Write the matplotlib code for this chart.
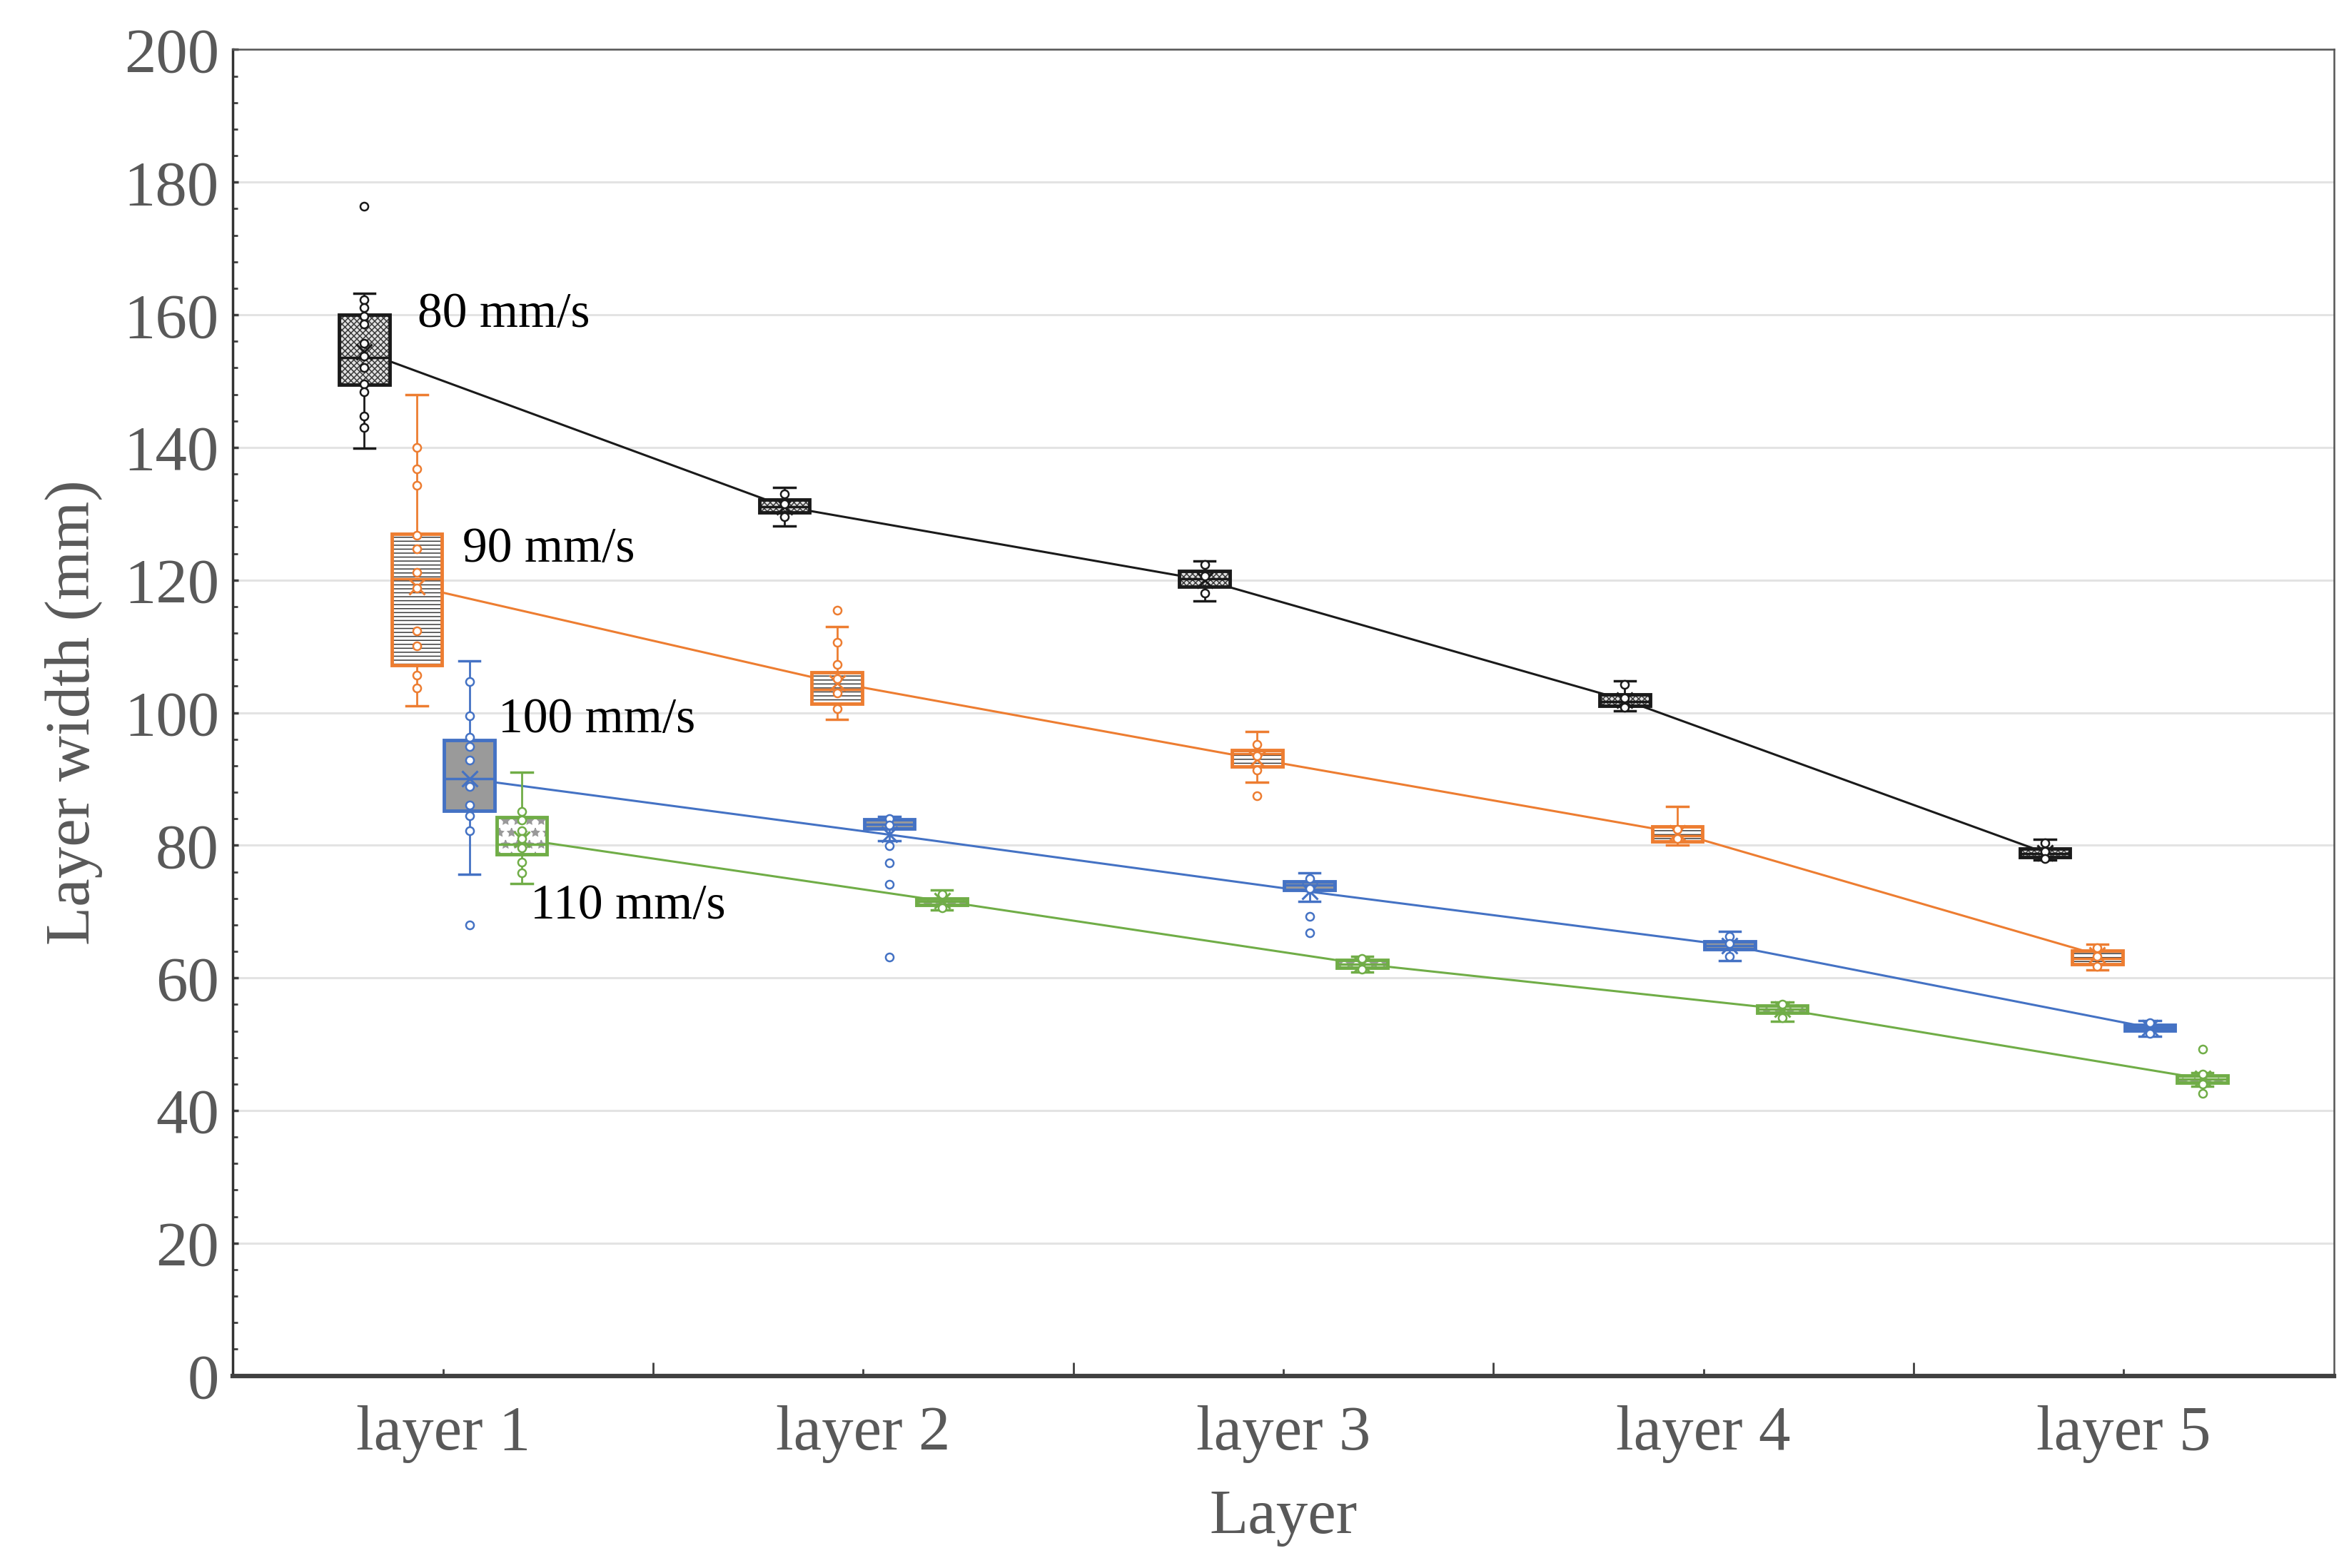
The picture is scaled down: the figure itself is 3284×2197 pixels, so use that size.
import numpy as np
import matplotlib
matplotlib.use('Agg')
import matplotlib.pyplot as plt
from matplotlib.patches import PathPatch
from matplotlib.ticker import MultipleLocator, AutoMinorLocator

plt.rcParams['font.family'] = ['Liberation Serif', 'DejaVu Serif']
plt.rcParams['hatch.linewidth'] = 1.1

layers = ['layer 1', 'layer 2', 'layer 3', 'layer 4', 'layer 5']
speeds = ['80 mm/s', '90 mm/s', '100 mm/s', '110 mm/s']

# box statistics, one value per layer
lo_80 = [139.9, 128.1, 116.8, 100.3, 77.8]
q1_80 = [149.5, 130.2, 119.0, 101.0, 78.2]
med_80 = [153.6, 131.1, 120.2, 101.7, 78.8]
q3_80 = [160.0, 132.1, 121.4, 102.8, 79.5]
hi_80 = [163.2, 134.0, 122.9, 104.8, 80.9]
mean_80 = [154.4, 131.1, 120.0, 101.9, 78.9]
out_80 = [[176.4], [], [], [], []]
pts_80 = [[162.3, 161.1, 159.8, 158.6, 155.7, 153.8, 152.0, 149.6, 148.4, 144.7, 143.0],
          [133.0, 131.5, 129.6], [122.3, 120.6, 118.0], [104.3, 102.2, 100.8], [80.4, 79.1, 78.0]]

lo_90 = [101.0, 99.0, 89.5, 80.0, 61.2]
q1_90 = [107.2, 101.4, 91.9, 80.6, 62.1]
med_90 = [120.2, 103.5, 93.8, 81.4, 62.9]
q3_90 = [127.0, 106.1, 94.4, 82.8, 64.1]
hi_90 = [147.9, 113.0, 97.2, 85.9, 65.1]
mean_90 = [119.0, 104.5, 93.0, 81.9, 63.5]
out_90 = [[], [115.5], [87.5], [], []]
pts_90 = [[140.0, 136.8, 134.3, 126.8, 124.7, 121.2, 118.8, 112.3, 110.1, 105.7, 103.7],
          [110.6, 107.3, 105.1, 103.0, 100.6], [95.2, 93.5, 91.3], [82.4, 81.0], [64.5, 63.2, 61.7]]

lo_100 = [75.6, 80.7, 71.5, 62.6, 51.2]
q1_100 = [85.2, 82.5, 73.3, 64.3, 52.1]
med_100 = [90.05, 83.2, 74.0, 64.9, 52.5]
q3_100 = [95.9, 83.9, 74.6, 65.5, 52.9]
hi_100 = [107.8, 84.3, 75.8, 67.0, 53.6]
mean_100 = [90.0, 81.6, 73.0, 64.9, 52.5]
out_100 = [[68.0], [79.9, 77.4, 74.1, 63.1], [69.3, 66.8], [], []]
pts_100 = [[104.7, 99.5, 96.3, 94.9, 92.9, 88.9, 86.1, 84.5, 82.2],
           [84.0, 83.0], [75.0, 73.5], [66.3, 65.2, 63.3], [53.2, 51.6]]

lo_110 = [74.2, 70.2, 60.9, 53.5, 43.7]
q1_110 = [78.6, 71.0, 61.5, 54.7, 44.2]
med_110 = [80.2, 71.5, 62.1, 55.3, 44.7]
q3_110 = [84.2, 72.0, 62.7, 55.8, 45.3]
hi_110 = [91.0, 73.3, 63.3, 56.4, 45.7]
mean_110 = [80.9, 71.6, 62.1, 55.3, 44.8]
out_110 = [[], [], [], [], [49.3, 42.6]]
pts_110 = [[85.1, 83.8, 82.2, 81.0, 79.6, 77.5, 75.8],
           [72.6, 70.6], [62.9, 61.3], [56.0, 54.0], [45.5, 44.0]]

series = [
    (lo_80, q1_80, med_80, q3_80, hi_80, mean_80, out_80, pts_80),
    (lo_90, q1_90, med_90, q3_90, hi_90, mean_90, out_90, pts_90),
    (lo_100, q1_100, med_100, q3_100, hi_100, mean_100, out_100, pts_100),
    (lo_110, q1_110, med_110, q3_110, hi_110, mean_110, out_110, pts_110),
]

colors = ['#1a1a1a', '#ED7D31', '#4472C4', '#70AD47']
faces = ['#e2e2e2', 'white', '#9a9a9a', 'white']
hatches = ['xxxx', '---', None, '*']
hatch_cols = ['#3a3a3a', '#3a3a3a', '#9a9a9a', '#999999']
offsets = [-0.1875, -0.0625, 0.0625, 0.1875]

fig = plt.figure(figsize=(32.84, 21.97), dpi=100)
ax = fig.add_axes([0.0994, 0.1226, 0.8962, 0.8458])

x = np.arange(1, 6)
for k, (lo, q1, med, q3, hi, mean, out, pts) in enumerate(series):
    c = colors[k]
    pos = x + offsets[k]
    stats = []
    for i in range(5):
        stats.append(dict(whislo=lo[i], q1=q1[i], med=med[i], q3=q3[i],
                          whishi=hi[i], mean=mean[i], fliers=out[i]))
    # line through the means
    ax.plot(pos, mean, color=c, lw=2.2, zorder=2)
    bp = ax.bxp(stats, positions=pos, widths=0.12, capwidths=0.05,
                patch_artist=True, showmeans=True, manage_ticks=False,
                boxprops=dict(facecolor='none', edgecolor=c, linewidth=3.5),
                medianprops=dict(color=c, linewidth=2.5),
                whiskerprops=dict(color=c, linewidth=2),
                capprops=dict(color=c, linewidth=2.5),
                flierprops=dict(marker='o', markerfacecolor='white',
                                markeredgecolor=c, markersize=8, markeredgewidth=1.8),
                meanprops=dict(marker='x', markeredgecolor=c, markersize=16,
                               markeredgewidth=2.2),
                zorder=4)
    for box in bp['boxes']:
        fill = PathPatch(box.get_path(), facecolor=faces[k], edgecolor=hatch_cols[k],
                         lw=0, hatch=hatches[k], zorder=3)
        ax.add_patch(fill)
    for i in range(5):
        ax.plot(np.full(len(pts[i]), pos[i]), pts[i], 'o', mfc='white', mec=c,
                ms=8, mew=1.8, zorder=5)

# speed labels
ax.text(0.94, 160, speeds[0], fontsize=50, ha='left', va='center', color='black')
ax.text(1.046, 124.6, speeds[1], fontsize=50, ha='left', va='center', color='black')
ax.text(1.132, 98.8, speeds[2], fontsize=50, ha='left', va='center', color='black')
ax.text(1.207, 70.8, speeds[3], fontsize=50, ha='left', va='center', color='black')

ax.set_xlim(0.5, 5.5)
ax.set_ylim(0, 200)
ax.yaxis.set_major_locator(MultipleLocator(20))
ax.yaxis.set_minor_locator(AutoMinorLocator(5))
ax.set_xticks(x, layers)
ax.set_xticks([1.5, 2.5, 3.5, 4.5], minor=True)
ax.tick_params(axis='both', which='both', direction='in', colors='#404040',
               labelcolor='#595959')
ax.tick_params(axis='y', which='major', length=6, width=2.5, labelsize=64, pad=14)
ax.tick_params(axis='y', which='minor', length=5, width=2)
ax.tick_params(axis='x', which='major', length=7, width=2, labelsize=64, pad=30)
ax.tick_params(axis='x', which='minor', length=14, width=2)

ax.yaxis.grid(True, color='#e3e3e3', lw=2.2)
ax.set_axisbelow(True)

ax.spines['left'].set_color('#333333')
ax.spines['left'].set_linewidth(2.5)
ax.spines['bottom'].set_color('#404040')
ax.spines['bottom'].set_linewidth(4.5)
ax.spines['top'].set_color('#555555')
ax.spines['top'].set_linewidth(1.8)
ax.spines['right'].set_color('#555555')
ax.spines['right'].set_linewidth(1.8)

ax.set_ylabel('Layer width (mm)', fontsize=64, color='#595959')
ax.set_xlabel('Layer', fontsize=64, color='#595959')
ax.yaxis.set_label_coords(-0.062, 0.5)
ax.xaxis.set_label_coords(0.5, -0.085)

fig.savefig('out.png', dpi=100, facecolor='white')
